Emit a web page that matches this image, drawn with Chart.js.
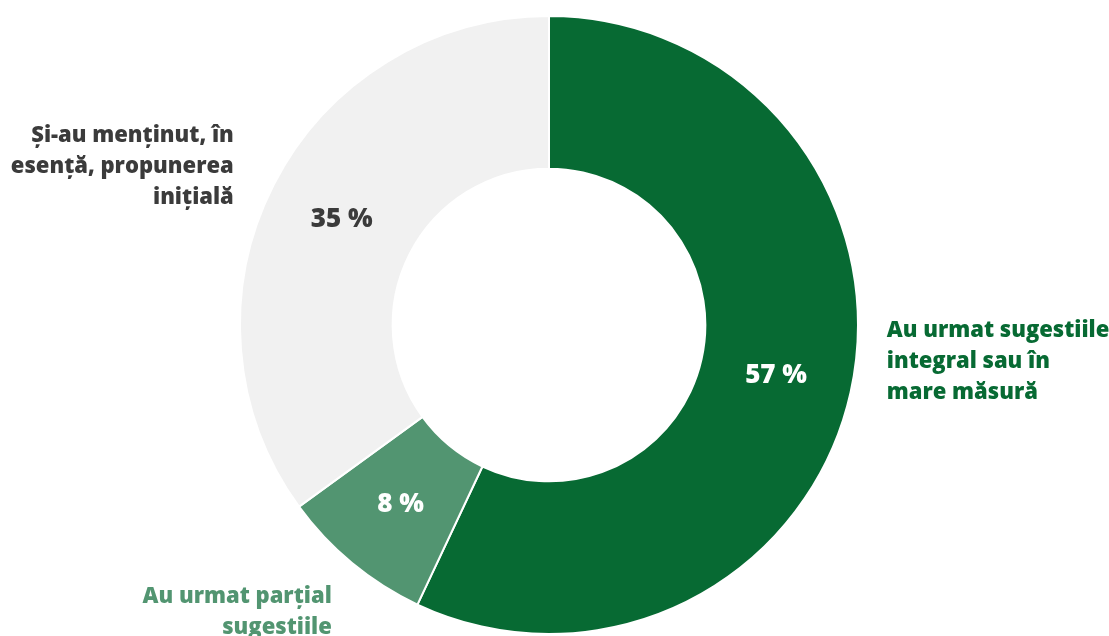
<!DOCTYPE html>
<html>
<head>
<meta charset="utf-8">
<script src="https://cdn.jsdelivr.net/npm/chart.js@4"></script>
<style>
  html, body { margin: 0; padding: 0; background: #fff; }
  #wrap { width: 1109px; height: 636px; }
</style>
</head>
<body>
<div id="wrap"><canvas id="myChart"></canvas></div>
<script>
// date
const sliceLabels = [
  ['Au urmat sugestiile', 'integral sau în', 'mare măsură'],
  ['Au urmat parțial', 'sugestiile'],
  ['Și-au menținut, în', 'esență, propunerea', 'inițială']
];
const sliceValues = [57, 8, 35];
const sliceColors = ['#076a33', '#529571', '#f1f1f1'];
const labelColors = ['#076a33', '#529571', '#3b3b3b'];
const valueColors = ['#ffffff', '#ffffff', '#3b3b3b'];

// unde stau etichetele exterioare (relativ la centru, in raze)
const outerAnchor = [
  { dx: 1.093, dy: 0.12, align: 'left' },
  { dx: -0.703, dy: 0.93, align: 'right' },
  { dx: -1.02, dy: -0.513, align: 'right' }
];

const FONT = '"Open Sans", sans-serif';

const labelPlugin = {
  id: 'labelPlugin',
  afterDatasetsDraw(chart) {
    const c = chart.ctx;
    const meta = chart.getDatasetMeta(0);
    c.save();
    meta.data.forEach((arc, i) => {
      // procent in felie
      const p = arc.tooltipPosition();
      c.font = '800 26px ' + FONT;
      c.fillStyle = valueColors[i];
      c.textAlign = 'center';
      c.textBaseline = 'middle';
      c.fillText(sliceValues[i] + ' %', p.x, p.y);

      // text exterior
      const r = arc.outerRadius;
      const a = outerAnchor[i];
      const lines = sliceLabels[i];
      const lh = 31;
      const x0 = arc.x + a.dx * r;
      const y0 = arc.y + a.dy * r - (lines.length - 1) * lh / 2;
      c.font = '800 22px ' + FONT;
      c.fillStyle = labelColors[i];
      c.textAlign = a.align;
      lines.forEach((ln, k) => c.fillText(ln, x0, y0 + k * lh));
    });
    c.restore();
  }
};

var ctx = document.getElementById('myChart').getContext('2d');
var myChart = new Chart(ctx, {
  type: 'doughnut',
  data: {
    labels: sliceLabels.map(l => l.join(' ')),
    datasets: [{
      data: sliceValues,
      backgroundColor: sliceColors,
      borderColor: '#ffffff',
      borderWidth: 2,
      hoverOffset: 0
    }]
  },
  options: {
    responsive: true,
    maintainAspectRatio: false,
    animation: false,
    cutout: '50.6%',
    layout: { padding: { top: 15, bottom: 1, left: 0, right: 11 } },
    plugins: {
      legend: { display: false },
      tooltip: { enabled: false }
    }
  },
  plugins: [labelPlugin]
});
</script>
</body>
</html>
